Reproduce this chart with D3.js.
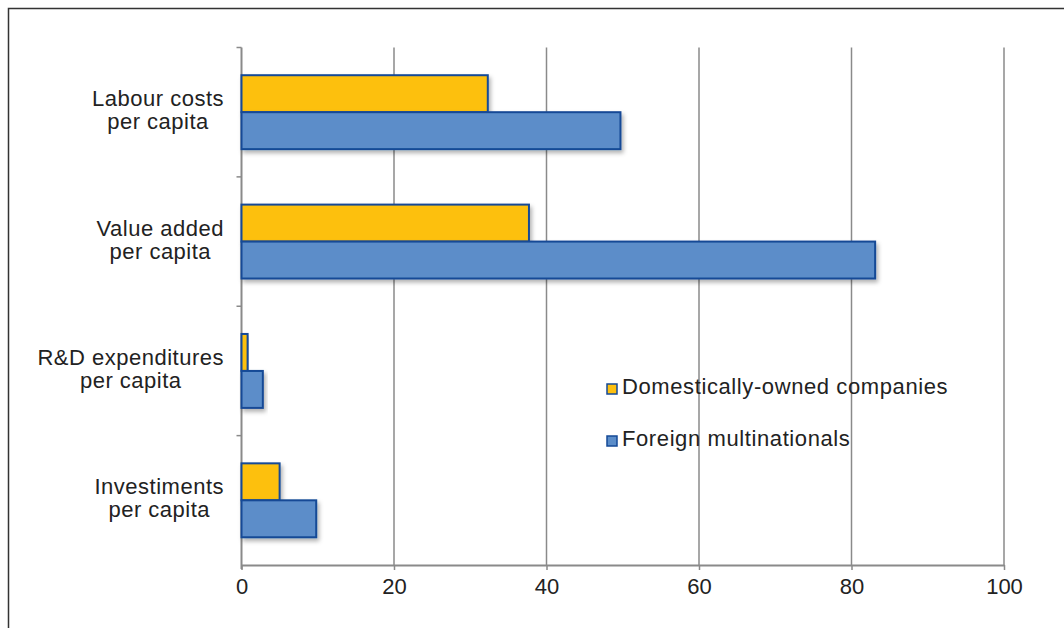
<!DOCTYPE html>
<html>
<head>
<meta charset="utf-8">
<script src="https://cdn.jsdelivr.net/npm/d3@7"></script>
<style>
  html, body { margin: 0; padding: 0; background: #fff; }
  svg { display: block; font-family: "Liberation Sans", Arial, Helvetica, sans-serif; }
</style>
</head>
<body>
<svg id="chart" width="1064" height="628"></svg>
<script>
// Indicators (two-line labels) and the values for each company group
const categories = [
  ["Labour costs", "per capita"],
  ["Value added", "per capita"],
  ["R&D expenditures", "per capita"],
  ["Investiments", "per capita"]
];
const seriesNames = ["Domestically-owned companies", "Foreign multinationals"];
const domesticValues = [32.3, 37.7, 0.8, 5.0];
const foreignValues = [49.7, 83.1, 2.8, 9.8];
const xTicks = [0, 20, 40, 60, 80, 100];
const seriesColors = ["#FDC010", "#5B8DC9"];

(function () {
const svg = d3.select("#chart");

// Outer frame
svg.append("rect")
  .attr("x", 8.5).attr("y", 8.5)
  .attr("width", 1100).attr("height", 700)
  .attr("fill", "none").attr("stroke", "#333").attr("stroke-width", 1.5);

// Soft shadow under the bars
const defs = svg.append("defs");
const f = defs.append("filter").attr("id", "barShadow")
  .attr("x", "-10%").attr("y", "-20%").attr("width", "130%").attr("height", "160%");
f.append("feDropShadow").attr("dx", 2).attr("dy", 3).attr("stdDeviation", 2)
  .attr("flood-color", "#000").attr("flood-opacity", 0.3);

const plotLeft = 241.5, plotRight = 1004, plotTop = 47.5, plotBottom = 565;
const labelRight = 224;

const x = d3.scaleLinear().domain([0, 100]).range([plotLeft, plotRight]);
const y = d3.scaleBand().domain(d3.range(categories.length)).range([plotTop, plotBottom]);
const ySub = d3.scaleBand().domain(d3.range(seriesNames.length))
  .range([0, y.bandwidth()]).paddingInner(0).paddingOuter(0.75);

// Vertical gridlines
svg.append("g").selectAll("line")
  .data(xTicks.filter(t => t > 0))
  .join("line")
  .attr("x1", d => x(d)).attr("x2", d => x(d))
  .attr("y1", plotTop).attr("y2", plotBottom)
  .attr("stroke", "#8a8a8a").attr("stroke-width", 1.5);

// Bottom value axis
const xAxis = svg.append("g")
  .attr("transform", `translate(0,${plotBottom})`)
  .call(d3.axisBottom(x).tickValues(xTicks).tickSize(5).tickPadding(8).tickSizeOuter(0));
xAxis.select(".domain").attr("stroke", "#8a8a8a").attr("stroke-width", 2);
xAxis.selectAll(".tick line").attr("stroke", "#8a8a8a").attr("stroke-width", 1.5);
xAxis.selectAll(".tick text")
  .attr("font-size", 22).attr("fill", "#222")
  .attr("font-family", "'Liberation Sans', Arial, sans-serif");

// Left category axis with ticks at band boundaries
const yAxisG = svg.append("g");
yAxisG.append("line")
  .attr("x1", plotLeft).attr("x2", plotLeft).attr("y1", plotTop).attr("y2", plotBottom + 4)
  .attr("stroke", "#8a8a8a").attr("stroke-width", 2);
yAxisG.selectAll("line.tk")
  .data(d3.range(categories.length))
  .join("line").attr("class", "tk")
  .attr("x1", plotLeft - 5).attr("x2", plotLeft)
  .attr("y1", d => y(d)).attr("y2", d => y(d))
  .attr("stroke", "#8a8a8a").attr("stroke-width", 1.5);

// Category labels: each two-line block is right-aligned, lines centred in it
const labels = svg.append("g").selectAll("text")
  .data(categories)
  .join("text")
  .attr("text-anchor", "middle")
  .attr("font-size", 22).attr("fill", "#222")
  .attr("letter-spacing", 0.5)
  .attr("y", (d, i) => y(i) + y.bandwidth() / 2 - 6);
labels.selectAll("tspan")
  .data(d => d)
  .join("tspan")
  .attr("dy", (d, i) => i === 0 ? 0 : 23)
  .text(d => d);
labels.each(function () {
  const t = d3.select(this);
  const w = d3.max(t.selectAll("tspan").nodes(), n => n.getComputedTextLength());
  t.selectAll("tspan").attr("x", labelRight - w / 2);
});

// Bars
const barData = [];
categories.forEach((c, i) => {
  barData.push({ cat: i, s: 0, v: domesticValues[i] });
  barData.push({ cat: i, s: 1, v: foreignValues[i] });
});
svg.append("g").selectAll("rect")
  .data(barData)
  .join("rect")
  .attr("x", x(0))
  .attr("y", d => y(d.cat) + ySub(d.s))
  .attr("width", d => x(d.v) - x(0))
  .attr("height", ySub.bandwidth())
  .attr("fill", d => seriesColors[d.s])
  .attr("stroke", "#154a96").attr("stroke-width", 2)
  .attr("filter", "url(#barShadow)");

// Legend
const legend = svg.append("g").selectAll("g")
  .data(seriesNames)
  .join("g")
  .attr("transform", (d, i) => `translate(607,${384 + i * 52})`);
legend.append("rect")
  .attr("width", 10).attr("height", 10)
  .attr("fill", (d, i) => seriesColors[i])
  .attr("stroke", "#154a96").attr("stroke-width", 1.5);
legend.append("text")
  .attr("x", 15).attr("y", 9.5)
  .attr("font-size", 22).attr("fill", "#222")
  .attr("letter-spacing", 0.6)
  .text(d => d);
})();
</script>
</body>
</html>
